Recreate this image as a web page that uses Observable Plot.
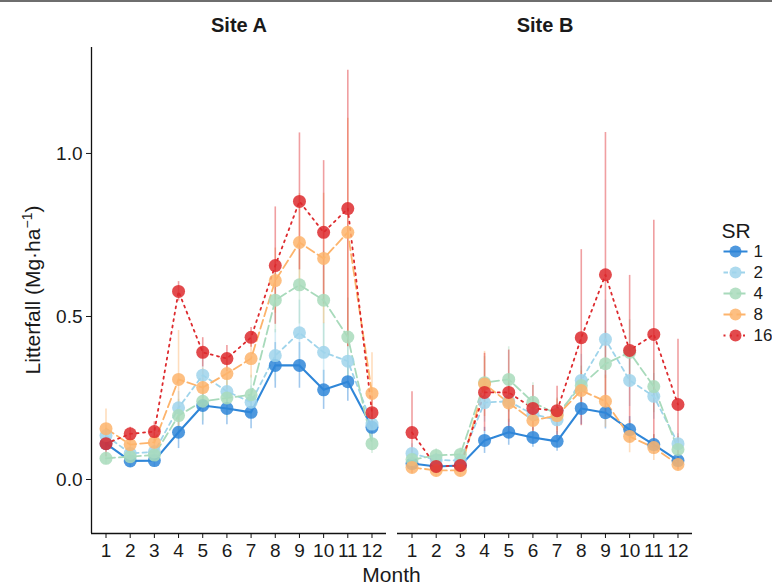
<!DOCTYPE html>
<html><head><meta charset="utf-8">
<script src="https://cdn.jsdelivr.net/npm/d3@7"></script>
<script src="https://cdn.jsdelivr.net/npm/@observablehq/plot@0.6"></script>
<style>
body{margin:0;background:#fff;}
#wrap{position:relative;width:772px;height:586px;overflow:hidden;background:#fff;font-family:"Liberation Sans",Arial,sans-serif;}
#topline{position:absolute;left:0;top:0;width:772px;height:2px;background:#6e6e6e;}
#chart{position:absolute;left:0;top:0;}
#legend{position:absolute;left:692px;top:205px;}
</style></head><body>
<div id="wrap"><div id="chart"></div><div id="legend"></div><div id="topline"></div></div>
<script>
const sites = ["Site A", "Site B"];
const months = [1,2,3,4,5,6,7,8,9,10,11,12];
const srLevels = ["1","2","4","8","16"];
const srColors = ["#2F86D8","#9FD4EB","#A8DABB","#FDB46C","#DD2A2E"];
const srDash = [null, "4.5,4", "9,4", "9,4", "2,4.5"];

// Site A means and standard errors
const a_SR1  = [0.110,0.057,0.058,0.145,0.227,0.218,0.206,0.350,0.350,0.275,0.300,0.160];
const a_SR1e = [0.02,0.02,0.02,0.05,0.06,0.05,0.05,0.07,0.07,0.06,0.06,0.04];
const a_SR2  = [0.135,0.080,0.085,0.220,0.320,0.270,0.237,0.380,0.450,0.390,0.363,0.170];
const a_SR2e = [0.03,0.02,0.02,0.05,0.08,0.06,0.05,0.08,0.10,0.09,0.09,0.04];
const a_SR4  = [0.065,0.070,0.075,0.196,0.240,0.250,0.260,0.550,0.597,0.550,0.437,0.110];
const a_SR4e = [0.02,0.02,0.02,0.05,0.06,0.06,0.06,0.10,0.12,0.15,0.12,0.03];
const a_SR8  = [0.156,0.107,0.114,0.307,0.282,0.325,0.371,0.610,0.727,0.678,0.758,0.264];
const a_SR8e = [0.06,0.03,0.03,0.15,0.06,0.05,0.06,0.10,0.15,0.20,0.35,0.125];
const a_SR16  = [0.110,0.140,0.147,0.577,0.390,0.371,0.436,0.656,0.853,0.758,0.831,0.205];
const a_SR16e = [0.04,0.02,0.03,0.03,0.045,0.04,0.03,0.18,0.21,0.22,0.424,0.05];

// Site B means and standard errors
const b_SR1  = [0.049,0.040,0.043,0.120,0.145,0.129,0.117,0.218,0.205,0.153,0.107,0.058];
const b_SR1e = [0.02,0.02,0.02,0.04,0.04,0.03,0.03,0.05,0.05,0.04,0.03,0.02];
const b_SR2  = [0.080,0.060,0.058,0.236,0.240,0.200,0.183,0.304,0.430,0.304,0.255,0.110];
const b_SR2e = [0.03,0.02,0.02,0.06,0.06,0.05,0.05,0.08,0.12,0.08,0.07,0.03];
const b_SR4  = [0.061,0.074,0.077,0.297,0.307,0.237,0.200,0.288,0.355,0.390,0.285,0.092];
const b_SR4e = [0.02,0.02,0.02,0.08,0.10,0.06,0.05,0.06,0.10,0.10,0.08,0.04];
const b_SR8  = [0.037,0.028,0.028,0.293,0.235,0.181,0.196,0.273,0.240,0.132,0.098,0.046];
const b_SR8e = [0.02,0.02,0.02,0.10,0.06,0.04,0.05,0.06,0.08,0.05,0.04,0.02];
const b_SR16  = [0.144,0.040,0.043,0.267,0.267,0.218,0.211,0.435,0.628,0.396,0.445,0.230];
const b_SR16e = [0.125,0.02,0.02,0.12,0.13,0.07,0.075,0.27,0.436,0.23,0.35,0.20];

const seriesTable = [
  ["Site A","1",a_SR1,a_SR1e],["Site A","2",a_SR2,a_SR2e],["Site A","4",a_SR4,a_SR4e],["Site A","8",a_SR8,a_SR8e],["Site A","16",a_SR16,a_SR16e],
  ["Site B","1",b_SR1,b_SR1e],["Site B","2",b_SR2,b_SR2e],["Site B","4",b_SR4,b_SR4e],["Site B","8",b_SR8,b_SR8e],["Site B","16",b_SR16,b_SR16e]
];
const data = [];
for (const sr of srLevels) {
  for (const [site, s, vals, ses] of seriesTable) {
    if (s !== sr) continue;
    months.forEach((m, i) => data.push({site, sr, month: m, value: vals[i], se: ses[i]}));
  }
}

const FONT = '"Liberation Sans", Arial, sans-serif';
const yDomain = [-0.1656, 1.325];
const xDomain = [0.4, 12.6];

const errMarks = srLevels.map(sr => Plot.ruleX(data.filter(d => d.sr === sr), {
  x: "month", y1: d => d.value - d.se, y2: d => d.value + d.se, fx: "site",
  stroke: "sr", strokeOpacity: 0.45, strokeWidth: 1.6
}));
const lineMarks = srLevels.map((sr, i) => Plot.line(data.filter(d => d.sr === sr), {
  x: "month", y: "value", fx: "site", z: "site", stroke: "sr",
  strokeWidth: sr === "1" ? 2.1 : 1.8, strokeDasharray: srDash[i] || undefined
}));

const chart = Plot.plot({
  width: 772, height: 586,
  marginLeft: 90, marginRight: 79, marginTop: 47, marginBottom: 53,
  style: {fontFamily: FONT, color: "#1a1a1a", background: "transparent"},
  fx: {domain: sites, paddingInner: 0.0358, paddingOuter: 0, label: null},
  x: {domain: xDomain},
  y: {domain: yDomain},
  color: {type: "ordinal", domain: srLevels, range: srColors},
  marks: [
    ...errMarks,
    ...lineMarks,
    Plot.dot(data, {x: "month", y: "value", fx: "site", fill: "sr", r: 6.5, fillOpacity: 0.85, stroke: "none"}),
    Plot.ruleY([yDomain[0]], {stroke: "#111", strokeWidth: 1.3}),
    Plot.ruleX([xDomain[0]], {fx: () => "Site A", stroke: "#111", strokeWidth: 1.3}),
    Plot.axisX({ticks: months, tickFormat: d => String(d), tickSize: 5, tickPadding: 5, fontSize: 19, label: null, stroke: "#111"}),
    Plot.axisY({ticks: [0, 0.5, 1], tickFormat: d3.format(".1f"), tickSize: 5, tickPadding: 4, fontSize: 19, label: null}),
    Plot.axisFx({anchor: "top", tickSize: 0, tickPadding: 16, fontSize: 20, fontWeight: "bold", label: null})
  ]
});
document.getElementById("chart").appendChild(chart);

const svg = d3.select(chart);
svg.append("text").attr("x", 391.5).attr("y", 582).attr("text-anchor", "middle")
  .attr("font-size", 21).attr("font-family", FONT).attr("fill", "#1a1a1a").text("Month");
const yl = svg.append("text").attr("transform", "translate(40,290) rotate(-90)").attr("text-anchor", "middle")
  .attr("font-size", 21).attr("font-family", FONT).attr("fill", "#1a1a1a");
yl.append("tspan").text("Litterfall (Mg·ha");
yl.append("tspan").attr("font-size", 14).attr("dy", -8).text("−1");
yl.append("tspan").attr("dy", 8).text(")");

// Legend
const legendItems = srLevels.map((sr, i) => ({sr, i}));
const legendMarks = [
  Plot.text(["SR"], {x: 29, y: 26, text: d => d, textAnchor: "start", fontSize: 21, fill: "#1a1a1a"})
];
legendItems.forEach(({sr, i}) => {
  legendMarks.push(Plot.link([{sr}], {x1: 31, x2: 55, y1: 46 + i * 21, y2: 46 + i * 21, stroke: "sr", strokeWidth: 2, strokeDasharray: srDash[i] || undefined}));
});
legendMarks.push(Plot.dot(legendItems, {x: 43, y: d => 46 + d.i * 21, fill: "sr", r: 6, fillOpacity: 0.85}));
legendMarks.push(Plot.text(legendItems, {x: 61, y: d => 46 + d.i * 21, text: "sr", textAnchor: "start", fontSize: 17, fill: "#1a1a1a"}));
const legend = Plot.plot({
  width: 80, height: 160, margin: 0,
  style: {fontFamily: FONT, background: "transparent", overflow: "visible"},
  x: {domain: [0, 80], range: [0, 80], axis: null},
  y: {domain: [0, 160], range: [0, 160], axis: null},
  color: {type: "ordinal", domain: srLevels, range: srColors},
  marks: legendMarks
});
document.getElementById("legend").appendChild(legend);
</script>
</body></html>
